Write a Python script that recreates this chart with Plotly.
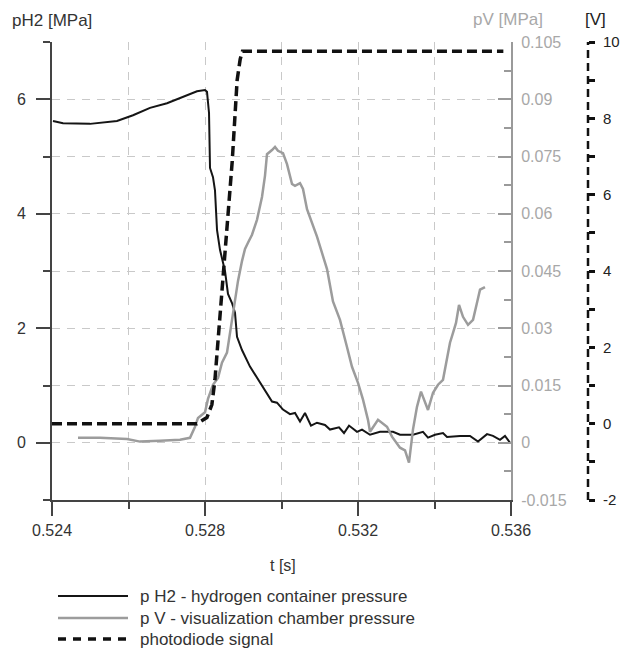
import plotly.graph_objects as go

# ---------------- data ----------------
ph2_t = [0.524026, 0.524288, 0.524993, 0.525438, 0.525699, 0.526118, 0.526562, 0.527007,
         0.527425, 0.527791, 0.528000, 0.528052, 0.528105, 0.528131, 0.528209, 0.528261,
         0.528314, 0.528392, 0.528523, 0.528601, 0.528706, 0.528784, 0.528837, 0.528967,
         0.529176, 0.529438, 0.529752, 0.529882, 0.530039, 0.530222, 0.530353, 0.530484,
         0.530614, 0.530771, 0.530928, 0.531137, 0.531268, 0.531503, 0.531634, 0.531765,
         0.531974, 0.532105, 0.532314, 0.532575, 0.532915, 0.533098, 0.533438, 0.533699,
         0.533830, 0.534013, 0.534222, 0.534327, 0.534667, 0.534928, 0.535137, 0.535373,
         0.535529, 0.535712, 0.535843, 0.535974]
ph2_v = [5.62, 5.58, 5.57, 5.60, 5.62, 5.72, 5.85, 5.93,
         6.04, 6.14, 6.16, 6.13, 5.76, 4.80, 4.64, 4.41,
         3.72, 3.37, 3.00, 2.60, 2.44, 2.27, 1.85, 1.62,
         1.33, 1.05, 0.72, 0.70, 0.58, 0.50, 0.52, 0.37,
         0.52, 0.30, 0.35, 0.31, 0.23, 0.27, 0.17, 0.30,
         0.19, 0.23, 0.14, 0.19, 0.19, 0.14, 0.14, 0.19,
         0.09, 0.14, 0.17, 0.10, 0.12, 0.12, 0.02, 0.15,
         0.12, 0.05, 0.12, 0.00]

pv_t = [0.524680, 0.525255, 0.525961, 0.526301, 0.526824, 0.527346, 0.527608, 0.527739,
        0.527817, 0.527922, 0.528000, 0.528078, 0.528209, 0.528340, 0.528444, 0.528575,
        0.528654, 0.528758, 0.528863, 0.528967, 0.529046, 0.529124, 0.529229, 0.529359,
        0.529490, 0.529569, 0.529621, 0.529752, 0.529830, 0.529908, 0.530039, 0.530144,
        0.530275, 0.530353, 0.530484, 0.530562, 0.530667, 0.530928, 0.531190, 0.531346,
        0.531529, 0.531712, 0.531843, 0.532000, 0.532131, 0.532261, 0.532314, 0.532523,
        0.532758, 0.532889, 0.533098, 0.533229, 0.533333, 0.533438, 0.533542, 0.533647,
        0.533725, 0.533830, 0.533961, 0.534092, 0.534222, 0.534327, 0.534405, 0.534484,
        0.534562, 0.534641, 0.534745, 0.534876, 0.535007, 0.535111, 0.535190, 0.535320]
pv_v = [0.0013, 0.0013, 0.0010, 0.0003, 0.0005, 0.0008, 0.0013, 0.0042,
        0.0065, 0.0075, 0.0080, 0.0115, 0.0152, 0.0170, 0.0210, 0.0236,
        0.0285, 0.0360, 0.0424, 0.0476, 0.0508, 0.0524, 0.0545, 0.0584,
        0.0644, 0.0700, 0.0756, 0.0767, 0.0775, 0.0765, 0.0759, 0.0730,
        0.0678, 0.0673, 0.0680, 0.0665, 0.0612, 0.0540, 0.0455, 0.0370,
        0.0322, 0.0251, 0.0199, 0.0157, 0.0113, 0.0060, 0.0029, 0.0060,
        0.0042, 0.0016, -0.0013, -0.0020, -0.0052, 0.0035, 0.0094, 0.0134,
        0.0113, 0.0086, 0.0131, 0.0152, 0.0165, 0.0225, 0.0262, 0.0288,
        0.0314, 0.0361, 0.0330, 0.0309, 0.0322, 0.0367, 0.0401, 0.0408]

pd_t = [0.524, 0.52779, 0.52805, 0.52818, 0.52826, 0.52834, 0.52844, 0.52858,
        0.52871, 0.52884, 0.52892, 0.52898, 0.5358]
pd_v = [0, 0, 0.16, 0.5, 1.15, 2.2, 3.35, 5.35, 6.85, 9.0, 9.55, 9.76, 9.76]

x_ticks = [0.524, 0.528, 0.532, 0.536]
x_labels = ["0.524", "0.528", "0.532", "0.536"]
y_ticks = [0, 2, 4, 6]
y2_ticks = [-0.015, 0, 0.015, 0.03, 0.045, 0.06, 0.075, 0.09, 0.105]
y2_labels = ["-0.015", "0", "0.015", "0.03", "0.045", "0.06", "0.075", "0.09", "0.105"]
y3_ticks = [-2, 0, 2, 4, 6, 8, 10]
y3_labels = ["-2", "0", "2", "4", "6", "8", "10"]

legend_names = ["p H2 - hydrogen container pressure",
                "p V - visualization chamber pressure",
                "photodiode signal"]

# ---------------- layout helpers ----------------
# the page body has an 8px margin, so the figure is 8px smaller and positions shift by 8
OFF = 8
W, H = 630 - OFF, 651 - OFF
L, R, T = 52 - OFF, 42, 42 - OFF
B = H - (500 - OFF)
PW = W - L - R
PH = H - T - B
def px(x):   # reference-pixel x -> paper
    return (x - OFF - L) / PW
def py(y):   # reference-pixel y -> paper
    return (H - B - (y - OFF)) / PH

FONT = "Liberation Sans, Arial, Helvetica, sans-serif"
GRID = "#c9c9c9"
DASHG = "8px,7px"
DARK = "#444444"
GRAYC = "#9a9a9a"
TF = 16

fig = go.Figure()
fig.add_trace(go.Scatter(x=pv_t, y=pv_v, yaxis="y2", mode="lines",
                         line=dict(color="#9c9c9c", width=2.5), name=legend_names[1]))
fig.add_trace(go.Scatter(x=ph2_t, y=ph2_v, yaxis="y", mode="lines",
                         line=dict(color="#151515", width=2), name=legend_names[0]))
fig.add_trace(go.Scatter(x=pd_t, y=pd_v, yaxis="y3", mode="lines",
                         line=dict(color="#111111", width=3.5, dash="10px,5px"),
                         name=legend_names[2]))

fig.update_layout(
    width=W, height=H,
    margin=dict(l=L, r=R, t=T, b=B, autoexpand=False),
    paper_bgcolor="white", plot_bgcolor="white",
    showlegend=False,
    font=dict(family=FONT, size=TF, color="#333333"),
    xaxis=dict(
        domain=[0, (511 - 52) / PW], range=[0.524, 0.536], automargin=False,
        tickmode="array", tickvals=x_ticks, ticktext=x_labels,
        ticks="outside", ticklen=14, tickwidth=2, tickcolor=DARK,
        showline=True, linecolor=DARK, linewidth=2,
        showgrid=True, gridcolor=GRID, gridwidth=1, griddash=DASHG,
        zeroline=False, ticklabelstandoff=1,
        tickfont=dict(size=TF, color="#333333"),
        minor=dict(tick0=0.524, dtick=0.002, ticks="outside", ticklen=7,
                   tickwidth=2, tickcolor=DARK, showgrid=True,
                   gridcolor=GRID, gridwidth=1, griddash=DASHG),
    ),
    yaxis=dict(
        range=[-1, 7], tickmode="array", tickvals=y_ticks, automargin=False,
        ticks="outside", ticklen=14, tickwidth=2, tickcolor=DARK,
        showline=True, linecolor=DARK, linewidth=2,
        showgrid=True, gridcolor=GRID, gridwidth=1, griddash=DASHG,
        zeroline=False, ticklabelstandoff=7,
        tickfont=dict(size=TF, color="#333333"),
        minor=dict(tick0=-1, dtick=1, ticks="outside", ticklen=7,
                   tickwidth=2, tickcolor=DARK, showgrid=True,
                   gridcolor=GRID, gridwidth=1, griddash=DASHG),
    ),
    yaxis2=dict(
        overlaying="y", side="right", anchor="x", automargin=False,
        range=[-0.015, 0.105], tickmode="array", tickvals=y2_ticks, ticktext=y2_labels,
        ticks="inside", ticklen=13, tickwidth=2, tickcolor=GRAYC,
        showline=True, linecolor=GRAYC, linewidth=2,
        showgrid=False, zeroline=False, ticklabelstandoff=5,
        tickfont=dict(size=TF, color="#a8a8a8"),
        minor=dict(tick0=0, dtick=0.0075, ticks="inside", ticklen=7,
                   tickwidth=2, tickcolor=GRAYC, showgrid=False),
    ),
    yaxis3=dict(
        overlaying="y", side="right", anchor="free", position=1.0, automargin=False,
        range=[-2, 10], tickmode="array", tickvals=y3_ticks, ticktext=y3_labels,
        ticks="outside", ticklen=6, tickwidth=2.5, tickcolor="#111111",
        showline=False, showgrid=False, zeroline=False, ticklabelstandoff=5,
        tickfont=dict(size=15, color="#222222"),
        minor=dict(tick0=-1, dtick=1, ticks="outside", ticklen=6,
                   tickwidth=2.5, tickcolor="#111111", showgrid=False),
    ),
)

shapes = []
# dashed photodiode axis line
shapes.append(dict(type="line", xref="paper", yref="paper", x0=1, x1=1, y0=0, y1=1,
                   line=dict(color="#111111", width=2.5, dash="8px,5px"), layer="above"))
# legend lines
leg_y = [596, 618, 639]
leg_styles = [dict(color="#151515", width=2),
              dict(color="#9c9c9c", width=2.5),
              dict(color="#111111", width=3.5, dash="8px,7px")]
for yy, st in zip(leg_y, leg_styles):
    shapes.append(dict(type="line", xref="paper", yref="paper",
                       x0=px(58), x1=px(128), y0=py(yy), y1=py(yy), line=st))

annotations = [
    dict(text="pH2 [MPa]", x=px(10), y=py(20), xanchor="left", yanchor="middle",
         font=dict(size=17, color="#333333")),
    dict(text="pV [MPa]", x=px(508), y=py(19), xanchor="center", yanchor="middle",
         font=dict(size=17, color="#a8a8a8")),
    dict(text="[V]", x=px(595), y=py(19), xanchor="center", yanchor="middle",
         font=dict(size=17, color="#222222")),
    dict(text="t [s]", x=px(283), y=py(565), xanchor="center", yanchor="middle",
         font=dict(size=TF, color="#333333")),
]
for yy, name in zip(leg_y, legend_names):
    annotations.append(dict(text=name, x=px(138), y=py(yy), xanchor="left",
                            yanchor="middle", font=dict(size=17, color="#333333")))
for a in annotations:
    a.update(xref="paper", yref="paper", showarrow=False)

fig.update_layout(shapes=shapes, annotations=annotations)
fig.write_html("out.html")
